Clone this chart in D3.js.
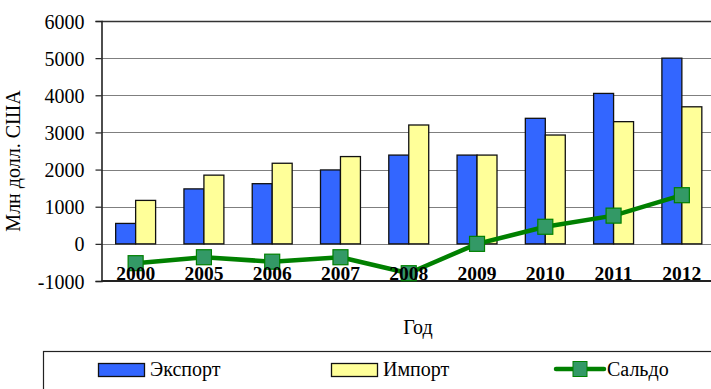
<!DOCTYPE html>
<html>
<head>
<meta charset="utf-8">
<script src="https://cdn.jsdelivr.net/npm/d3@7"></script>
<style>
  html, body { margin: 0; padding: 0; background: #fff; }
  svg { display: block; }
</style>
</head>
<body>
<svg id="chart" width="711" height="389"></svg>
<script>
// Foreign trade, million US dollars
const years   = ["2000", "2005", "2006", "2007", "2008", "2009", "2010", "2011", "2012"];
const exportV = [550, 1480, 1620, 1990, 2390, 2390, 3380, 4050, 5000];
const importV = [1170, 1850, 2170, 2350, 3200, 2390, 2930, 3290, 3690];
const saldoV  = [-520, -360, -480, -360, -790, 0, 460, 760, 1310];
const yTicks  = [-1000, 0, 1000, 2000, 3000, 4000, 5000, 6000];

const svg = d3.select("#chart");
const serif = "'Liberation Serif', 'Times New Roman', serif";

const plot = { left: 101.5, right: 716, top: 21, bottom: 281 };

const x = d3.scaleBand().domain(years).range([plot.left, plot.right]).paddingInner(0.415).paddingOuter(0.2075);
const xs = d3.scaleBand().domain(["exp", "imp"]).range([0, x.bandwidth()]);
const y = d3.scaleLinear().domain([-1000, 6000]).range([plot.bottom, plot.top]);

// horizontal grid
svg.append("g")
  .selectAll("line")
  .data(yTicks.slice(1, -1))
  .join("line")
  .attr("x1", plot.left).attr("x2", plot.right)
  .attr("y1", d => Math.round(y(d)) + 0.5).attr("y2", d => Math.round(y(d)) + 0.5)
  .attr("stroke", "#7f7f7f").attr("stroke-width", 1.2);

// top frame line
svg.append("line")
  .attr("x1", plot.left).attr("x2", plot.right)
  .attr("y1", y(6000) + 0.5).attr("y2", y(6000) + 0.5)
  .attr("stroke", "#333").attr("stroke-width", 1.5);

// bars
const groups = svg.append("g").selectAll("g")
  .data(years.map((yr, i) => ({ yr, exp: exportV[i], imp: importV[i] })))
  .join("g")
  .attr("transform", d => `translate(${x(d.yr)},0)`);

groups.append("rect")
  .attr("x", xs("exp")).attr("width", xs.bandwidth())
  .attr("y", d => y(d.exp)).attr("height", d => y(0) - y(d.exp))
  .attr("fill", "#3366ff").attr("stroke", "#111").attr("stroke-width", 1.3);

groups.append("rect")
  .attr("x", xs("imp")).attr("width", xs.bandwidth())
  .attr("y", d => y(d.imp)).attr("height", d => y(0) - y(d.imp))
  .attr("fill", "#ffff99").attr("stroke", "#111").attr("stroke-width", 1.3);

// y axis
const yAxis = svg.append("g")
  .attr("transform", `translate(${plot.left},0)`)
  .call(d3.axisLeft(y).tickValues(yTicks).tickSize(6).tickFormat(d => String(d)));
yAxis.attr("font-family", null).attr("font-size", null);
yAxis.select(".domain").attr("stroke", "#222").attr("stroke-width", 1.6);
yAxis.selectAll(".tick line").attr("stroke", "#222").attr("stroke-width", 1.2);
yAxis.selectAll(".tick text")
  .style("font-family", serif).style("font-size", "20px").attr("fill", "#000")
  .attr("x", -17).attr("dy", "0.35em");

// bottom axis line
svg.append("line")
  .attr("x1", plot.left).attr("x2", plot.right)
  .attr("y1", plot.bottom).attr("y2", plot.bottom)
  .attr("stroke", "#222").attr("stroke-width", 2);

// balance line
const cx = d => x(d) + x.bandwidth() / 2;
svg.append("path")
  .datum(saldoV)
  .attr("d", d3.line().x((d, i) => cx(years[i])).y(d => y(d)))
  .attr("fill", "none").attr("stroke", "#008000").attr("stroke-width", 4.5)
  .attr("stroke-linejoin", "round");

const ms = 15;
svg.append("g").selectAll("rect")
  .data(saldoV)
  .join("rect")
  .attr("x", (d, i) => cx(years[i]) - ms / 2).attr("y", d => y(d) - ms / 2)
  .attr("width", ms).attr("height", ms)
  .attr("fill", "#339966").attr("stroke", "#008000").attr("stroke-width", 1.2);

// category labels
svg.append("g").selectAll("text")
  .data(years)
  .join("text")
  .attr("x", d => cx(d)).attr("y", 280)
  .attr("text-anchor", "middle")
  .style("font-family", serif).style("font-size", "19.5px").style("font-weight", "bold")
  .text(d => d);

// axis titles
svg.append("text")
  .attr("transform", "translate(20,161) rotate(-90)")
  .attr("text-anchor", "middle")
  .style("font-family", serif).style("font-size", "20px")
  .text("Млн долл. США");

svg.append("text")
  .attr("x", 418).attr("y", 334)
  .attr("text-anchor", "middle")
  .style("font-family", serif).style("font-size", "20px")
  .text("Год");

// legend
const lg = svg.append("g");
lg.append("rect")
  .attr("x", 43.5).attr("y", 351.5).attr("width", 700).attr("height", 60)
  .attr("fill", "#fff").attr("stroke", "#222").attr("stroke-width", 1.2);

const legendItems = [
  { label: "Экспорт", type: "bar", color: "#3366ff", x: 98 },
  { label: "Импорт", type: "bar", color: "#ffff99", x: 331 },
  { label: "Сальдо", type: "line", x: 555 }
];
legendItems.forEach(it => {
  if (it.type === "bar") {
    lg.append("rect")
      .attr("x", it.x + 0.5).attr("y", 363.5).attr("width", 46).attr("height", 13)
      .attr("fill", it.color).attr("stroke", "#111").attr("stroke-width", 1.3);
  } else {
    lg.append("line")
      .attr("x1", it.x + 1).attr("x2", it.x + 49).attr("y1", 369).attr("y2", 369)
      .attr("stroke", "#008000").attr("stroke-width", 4.5).attr("stroke-linecap", "round");
    lg.append("rect")
      .attr("x", it.x + 18).attr("y", 361.5).attr("width", 14).attr("height", 15)
      .attr("fill", "#339966").attr("stroke", "#008000").attr("stroke-width", 1);
  }
  lg.append("text")
    .attr("x", it.type === "bar" ? it.x + 52 : it.x + 52).attr("y", 376)
    .style("font-family", serif).style("font-size", "20px")
    .text(it.label);
});
</script>
</body>
</html>
